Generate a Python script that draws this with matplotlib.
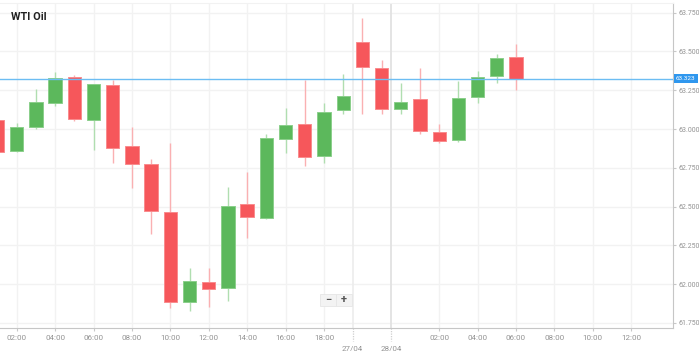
import numpy as np
import matplotlib
matplotlib.use("Agg")
import matplotlib.pyplot as plt
import matplotlib.transforms as mtransforms
from matplotlib.patches import Rectangle

# hourly slots on the x axis (last ones are still empty)
times = ['01:00', '02:00', '03:00', '04:00', '05:00', '06:00', '07:00', '08:00',
         '09:00', '10:00', '11:00', '12:00', '13:00', '14:00', '15:00', '16:00',
         '17:00', '18:00', '19:00', '20:00', '21:00', '00:00', '01:00', '02:00',
         '03:00', '04:00', '05:00', '06:00', '07:00', '08:00', '09:00', '10:00',
         '11:00', '12:00', '13:00']

# OHLC
opens = [63.058, 62.858, 63.011, 63.169, 63.337, 63.058, 63.283, 62.890, 62.773,
         62.467, 61.885, 62.016, 61.974, 62.517, 62.425, 62.934, 63.030, 62.828,
         63.122, 63.563, 63.395, 63.127, 63.193, 62.979, 62.929, 63.204, 63.341,
         63.462]
highs = [63.080, 63.037, 63.256, 63.369, 63.350, 63.290, 63.316, 63.011, 62.805,
         62.912, 62.106, 62.106, 62.624, 62.725, 62.968, 63.133, 63.316, 63.169,
         63.354, 63.715, 63.445, 63.294, 63.391, 63.030, 63.309, 63.374, 63.481,
         63.548]
lows = [62.840, 62.850, 63.000, 63.148, 63.050, 62.865, 62.783, 62.618, 62.323,
        61.845, 61.827, 61.851, 61.894, 62.300, 62.420, 62.843, 62.763, 62.779,
        63.097, 63.097, 63.097, 63.097, 62.968, 62.908, 62.918, 63.169, 63.294,
        63.251]
closes = [62.854, 63.011, 63.176, 63.327, 63.062, 63.288, 62.876, 62.774, 62.474,
          61.883, 62.023, 61.971, 62.506, 62.431, 62.940, 63.026, 62.822, 63.108,
          63.215, 63.398, 63.129, 63.176, 62.987, 62.925, 63.202, 63.333, 63.456,
          63.323]

last_price = 63.323
title = 'WTI Oil'
tick_labels = ['02:00', '04:00', '06:00', '08:00', '10:00', '12:00', '14:00',
               '16:00', '18:00', '02:00', '04:00', '06:00', '08:00', '10:00', '12:00']
dates = ['27/04', '28/04']
date_first_slot = ['20:00', '00:00']
y_ticks = [61.75, 62.0, 62.25, 62.5, 62.75, 63.0, 63.25, 63.5, 63.75]

RED, GREEN = '#f6575b', '#5cb85c'
RED_W, GREEN_W = '#fab0b2', '#b0deb0'
GRID = '#f2f2f2'
TXT = '#939393'

plt.rcParams['font.family'] = ['Roboto', 'DejaVu Sans']

fig = plt.figure(figsize=(6.99, 3.51), dpi=100)
ax = fig.add_axes([0, 23.3 / 351, 673 / 699, 324.7 / 351])


def find_seq(labels, start=0):
    out, i = [], start
    for lab in labels:
        i = times.index(lab, i)
        out.append(i)
        i += 1
    return out


tick_pos = find_seq(tick_labels)
date_pos = [p - 0.5 for p in find_seq(date_first_slot, times.index('18:00'))]

# grid
for y in y_ticks:
    ax.axhline(y, color=GRID, lw=1, zorder=0)
for x in tick_pos:
    ax.axvline(x, color=GRID, lw=1, zorder=0)
ax.axvline(date_pos[0], color='#ececec', lw=1.2, zorder=0)
ax.axvline(date_pos[1], color='#e2e2e2', lw=1.3, zorder=0)

# candles
o, h, l, c = map(np.array, (opens, highs, lows, closes))
idx = np.arange(len(o))
up = c >= o
ax.vlines(idx[up], l[up], h[up], color=GREEN_W, lw=1.0, zorder=2)
ax.vlines(idx[~up], l[~up], h[~up], color=RED_W, lw=1.0, zorder=2)
ax.bar(idx[up], (c - o)[up], bottom=o[up], width=0.69, color=GREEN,
       edgecolor='#8bcf8b', lw=0.7, zorder=3)
ax.bar(idx[~up], (o - c)[~up], bottom=c[~up], width=0.69, color=RED,
       edgecolor='#f98c8e', lw=0.7, zorder=3)

# last price line
ax.axhline(last_price, color='#6cbdf3', lw=1.0, zorder=4)
ax.text(1.0045, last_price, f'{last_price:.3f}',
        transform=mtransforms.blended_transform_factory(ax.transAxes, ax.transData),
        ha='left', va='center', fontsize=4.6, color='white', clip_on=False, zorder=6,
        bbox=dict(boxstyle='square,pad=0.3', fc='#2f97ee', ec='none'))

ax.set_xlim(0.13, 35.18)
ax.set_ylim(61.7197, 63.812)

ax.yaxis.tick_right()
ax.set_yticks(y_ticks)
ax.set_yticklabels([f'{v:.3f}' for v in y_ticks])
ax.set_xticks(tick_pos)
ax.set_xticklabels(tick_labels)
ax.tick_params(axis='both', colors='#c8c8c8', labelcolor=TXT, length=2.5, width=0.8)
ax.tick_params(axis='x', pad=3, labelsize=5.8)
ax.tick_params(axis='y', pad=1.5, labelsize=5.0)

ax.spines['left'].set_visible(False)
ax.spines['top'].set_color(GRID)
ax.spines['right'].set_color('#c6c6c6')
ax.spines['bottom'].set_color('#c6c6c6')

# date markers under the axis
trans = mtransforms.blended_transform_factory(ax.transData, ax.transAxes)
for x, d in zip(date_pos, dates):
    ax.plot([x, x], [0, -0.04], transform=trans, color='#cfcfcf', lw=0.9,
            ls=(0, (1, 1)), clip_on=False)
    ax.text(x, -0.055, d, transform=trans, ha='center', va='top', fontsize=5.8,
            color=TXT, clip_on=False)

fig.text(11 / 699, 1 - 17 / 351, title, fontsize=7.8, fontweight='bold',
         color='#222222', ha='left', va='center')

# zoom control box
W, H = 699, 351
for x0, sym in ((320, '\u2212'), (336, '+')):
    fig.patches.append(Rectangle((x0 / W, 1 - 306 / H), 15.5 / W, 12 / H,
                                 transform=fig.transFigure, fc='#f3f3f3', ec='#e6e6e6', lw=0.6))
    fig.text((x0 + 7.75) / W, 1 - 300 / H, sym, ha='center', va='center',
             fontsize=8, fontweight='bold', color='#555555')

fig.savefig('out.png', dpi=100)
